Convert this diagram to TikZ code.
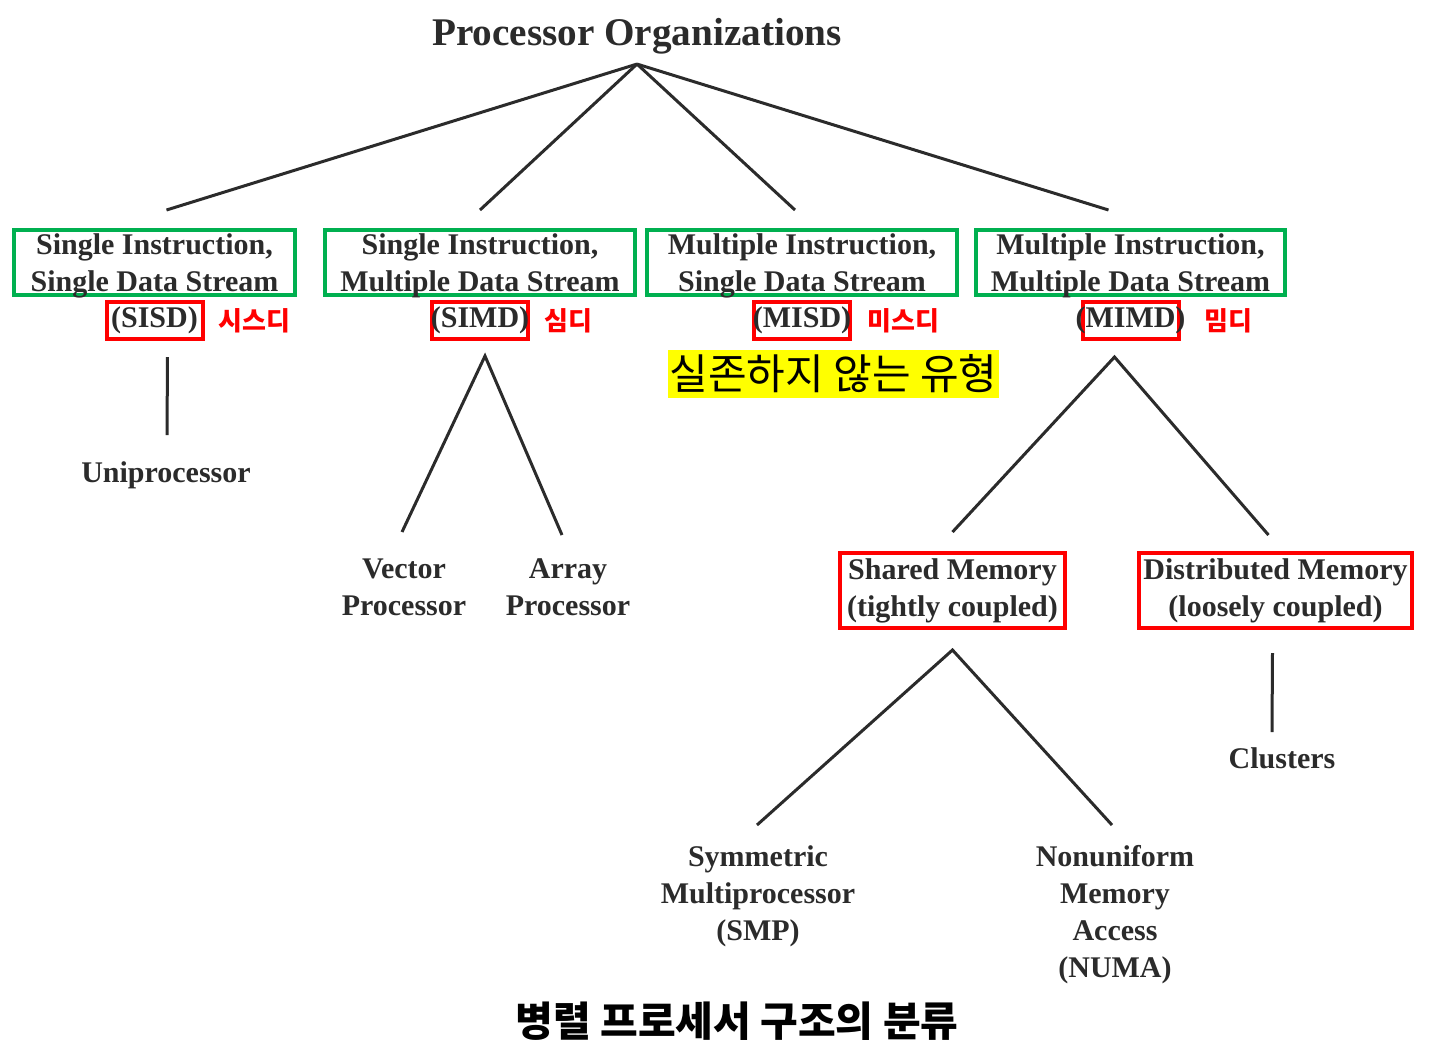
\documentclass[tikz,border=0pt]{standalone}
\usepackage{fontspec}
\setmainfont{Liberation Serif}
\newfontfamily\kr{Noto Sans CJK KR}
\usepackage{tikz}
\usetikzlibrary{positioning}
\definecolor{ink}{HTML}{2B2B2B}
\definecolor{boxgreen}{HTML}{00B050}
\definecolor{boxred}{HTML}{FF0000}
\definecolor{hilite}{HTML}{FFFF00}
\newcommand\abname[1]{\makebox[48pt]{#1}}
\tikzset{
  txt/.style={font=\bfseries\fontsize{15}{18.5}\selectfont,text=ink,
    align=center,inner sep=3pt},
  grn/.style={txt,draw=boxgreen,line width=2pt,inner sep=0pt,
    minimum height=32.5pt,text depth=0pt},
  redb/.style={txt,draw=boxred,line width=2pt,inner sep=0pt},
  abbr/.style={redb,minimum width=48pt,minimum height=18.5pt},
  krl/.style={font=\kr\bfseries\fontsize{13}{15}\selectfont,text=boxred,
    inner sep=0pt},
  br/.style={draw=ink,line width=1.5pt},
}

\begin{document}
\begin{tikzpicture}[x=0.5pt,y=-0.5pt]
  \useasboundingbox (0,0) rectangle (1442,1057);
  \node[txt,font=\bfseries\fontsize{19.6}{24}\selectfont,anchor=base,inner sep=5pt] (org) at (637,45) {Processor Organizations};
  % four classes
  \node[grn,minimum width=140.5pt] (sisdg) at (154.5,262.5) {Single Instruction,\\Single Data Stream};
  \node[grn,minimum width=155pt] (simdg) at (480,262.5) {Single Instruction,\\Multiple Data Stream};
  \node[grn,minimum width=155pt] (misdg) at (802,262.5) {Multiple Instruction,\\Single Data Stream};
  \node[grn,minimum width=154.5pt] (mimdg) at (1130.5,262.5) {Multiple Instruction,\\Multiple Data Stream};
  \node[abbr,below=1.5pt of sisdg] (sisd) {\abname{(SISD)}};
  \node[abbr,below=1.5pt of simdg] (simd) {\abname{(SIMD)}};
  \node[abbr,below=1.5pt of misdg] (misd) {\abname{(MISD)}};
  \node[abbr,below=1.5pt of mimdg] (mimd) {\abname{(MIMD)}};
  \node[krl,right=7pt of sisd] (sisdk) {시스디};
  \node[krl,right=7pt of simd] (simdk) {심디};
  \node[krl,right=7.5pt of misd] (misdk) {미스디};
  \node[krl,right=12pt of mimd] (mimdk) {밈디};
  \node[font=\kr\fontsize{21}{25}\selectfont,fill=hilite,inner sep=0pt,inner xsep=1pt,minimum height=24pt] (nomisd) at (833.5,374) {실존하지 않는 유형};
  % lower levels
  \node[txt,anchor=north] (uni) at (166,455) {Uniprocessor};
  \node[txt,anchor=north] (vec) at (404,552) {Vector\\Processor};
  \node[txt,anchor=north] (arr) at (568,552) {Array\\Processor};
  \node[redb,minimum width=112.5pt,minimum height=37.5pt] (shm) at (952.5,590.5) {Shared Memory\\(tightly coupled)};
  \node[redb,minimum width=136.5pt,minimum height=37.5pt] (dsm) at (1275.5,590.5) {Distributed Memory\\(loosely coupled)};
  \node[txt,anchor=north] (clu) at (1282,741) {Clusters};
  \node[txt,anchor=north] (smp) at (758,839) {Symmetric\\Multiprocessor\\(SMP)};
  \node[txt,anchor=north] (numa) at (1115,839) {Nonuniform\\Memory\\Access\\(NUMA)};
  \node[font=\kr\bfseries\fontsize{20.5}{24}\selectfont,text=black] (cap) at (737,1021) {병렬 프로세서 구조의 분류};
  % branches
  \foreach \b/\s in {sisdg/{(12,-18)},simdg/{(0,-18)},misdg/{(-7,-18)},mimdg/{(-22,-18)}}
    \draw[br] (org.south) -- ([shift={\s}]\b.north);
  \draw[br] ([shift={(13,16)}]sisd.south) -- ([shift={(1,-20)}]uni.north);
  \draw[br] ([shift={(-2,-20)}]vec.north) -- ([shift={(5,15)}]simd.south) -- ([shift={(-6,-17)}]arr.north);
  \draw[br] ([shift={(0,-19)}]shm.north) -- ([shift={(-16,16)}]mimd.south) -- ([shift={(-7,-16)}]dsm.north);
  \draw[br] ([shift={(-1,-14)}]smp.north) -- ([shift={(0,20)}]shm.south) -- ([shift={(-3,-14)}]numa.north);
  \draw[br] ([shift={(-3,23)}]dsm.south) -- ([shift={(-10,-9)}]clu.north);
\end{tikzpicture}
\end{document}
